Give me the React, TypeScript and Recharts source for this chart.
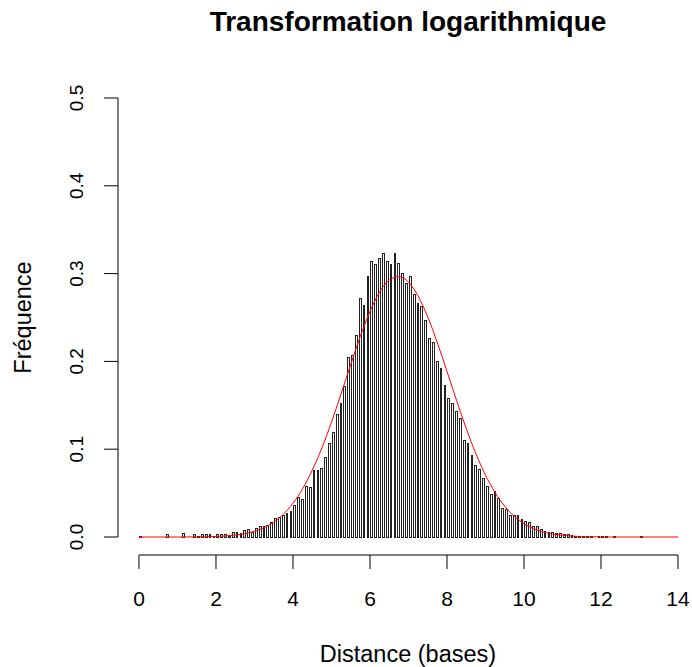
import { Bar, ComposedChart, Line, ReferenceLine, XAxis, YAxis } from 'recharts';

// histogram frequencies, bins of width 0.1 starting at 0.0 (last bin 13.0-13.1)
const freq = [
  0.001, 0, 0, 0, 0, 0, 0, 0.003, 0, 0,
  0, 0.004, 0, 0, 0.003, 0.001, 0.003, 0.003, 0.003, 0.001,
  0.003, 0.003, 0.003, 0.001, 0.005, 0.005, 0.004, 0.007, 0.009, 0.005,
  0.010, 0.012, 0.012, 0.013, 0.016, 0.021, 0.022, 0.024, 0.027, 0.029,
  0.036, 0.045, 0.043, 0.058, 0.056, 0.076, 0.076, 0.078, 0.091, 0.107,
  0.119, 0.139, 0.152, 0.171, 0.205, 0.207, 0.230, 0.272, 0.264, 0.297,
  0.314, 0.310, 0.317, 0.323, 0.314, 0.310, 0.323, 0.311, 0.300, 0.289,
  0.297, 0.276, 0.266, 0.262, 0.247, 0.226, 0.222, 0.200, 0.192, 0.173,
  0.158, 0.152, 0.143, 0.135, 0.110, 0.106, 0.093, 0.081, 0.077, 0.067,
  0.058, 0.048, 0.052, 0.044, 0.033, 0.031, 0.025, 0.025, 0.025, 0.020,
  0.018, 0.016, 0.012, 0.012, 0.009, 0.006, 0.005, 0.005, 0.004, 0.004,
  0.003, 0.003, 0.002, 0.001, 0.001, 0.001, 0.001, 0.001, 0, 0.001,
  0.001, 0.001, 0, 0.001, 0, 0, 0, 0, 0, 0,
  0.001,
];
const binStart = 0;
const binWidth = 0.1;

// red density curve, read every 0.25 from 0 to 14
const density = [
  0, 0, 0, 0, 0, 0.0001, 0.0002, 0.0003, 0.0006, 0.0012,
  0.0022, 0.0038, 0.0065, 0.0106, 0.0169, 0.0259, 0.0384, 0.0549, 0.076, 0.1014,
  0.1309, 0.1632, 0.1966, 0.2287, 0.257, 0.279, 0.2927, 0.2965, 0.2903, 0.2744,
  0.2507, 0.2212, 0.1886, 0.1553, 0.1236, 0.0949, 0.0705, 0.0506, 0.035, 0.0235,
  0.0152, 0.0095, 0.0057, 0.0033, 0.0019, 0.001, 0.0005, 0.0003, 0.0001, 0,
  0, 0, 0, 0, 0, 0, 0,
];
const densStart = 0;
const densStep = 0.25;

const xTicks = [0, 2, 4, 6, 8, 10, 12, 14];
const yTicks = [0, 0.1, 0.2, 0.3, 0.4, 0.5];
const yTickLabels = ['0.0', '0.1', '0.2', '0.3', '0.4', '0.5'];

const X_DOMAIN: [number, number] = [-0.545, 14.312];
const Y_DOMAIN: [number, number] = [-0.0205, 0.5205];

const FONT = '"Liberation Sans", Arial, sans-serif';

const histData = freq.map((f, i) => ({ x: binStart + binWidth * (i + 0.5), freq: f }));
const curveData = density.map((d, i) => ({ x: densStart + densStep * i, dens: d }));

const XTick = (props: any) => {
  const { x, y, payload } = props;
  return (
    <g>
      <line x1={x} x2={x} y1={y} y2={y + 14} stroke="#000" />
      <text x={x} y={y + 51} textAnchor="middle" fontSize={21} fontFamily={FONT} fill="#000">
        {payload.value}
      </text>
    </g>
  );
};

const YTick = (props: any) => {
  const { x, y, index } = props;
  const cx = x - 42;
  return (
    <g>
      <line x1={x} x2={x - 14} y1={y} y2={y} stroke="#000" />
      <text
        x={cx}
        y={y}
        dy="0.36em"
        transform={`rotate(-90, ${cx}, ${y})`}
        textAnchor="middle"
        fontSize={19}
        fontFamily={FONT}
        fill="#000"
      >
        {yTickLabels[index]}
      </text>
    </g>
  );
};

const xLabel = (props: any) => {
  const vb = props.viewBox;
  return (
    <text x={vb.x + 290} y={vb.y + 107} textAnchor="middle" fontSize={23.5} fontFamily={FONT} fill="#000">
      Distance (bases)
    </text>
  );
};

const yLabel = (props: any) => {
  const vb = props.viewBox;
  const cx = vb.x + 23;
  const cy = vb.y + vb.height / 2;
  return (
    <text
      x={cx}
      y={cy}
      dy="0.36em"
      transform={`rotate(-90, ${cx}, ${cy})`}
      textAnchor="middle"
      fontSize={23.5}
      fontFamily={FONT}
      fill="#000"
    >
      Fréquence
    </text>
  );
};

export default function App() {
  return (
    <div style={{ position: 'absolute', left: 0, top: 0, width: 692, height: 667, background: '#fff' }}>
      <div
        style={{
          position: 'absolute',
          left: 124,
          top: 8,
          width: 568,
          textAlign: 'center',
          fontFamily: FONT,
          fontWeight: 'bold',
          fontSize: 28,
          lineHeight: '28px',
          color: '#000',
        }}
      >
        Transformation logarithmique
      </div>
      <ComposedChart width={692} height={667} data={histData} margin={{ top: 80, right: 2, bottom: 0, left: 0 }}>
        <XAxis
          dataKey="x"
          type="number"
          domain={X_DOMAIN}
          allowDataOverflow
          ticks={xTicks}
          interval={0}
          axisLine={false}
          tickLine={false}
          tickSize={0}
          tickMargin={0}
          height={112}
          tick={<XTick />}
          label={{ content: xLabel }}
        />
        <YAxis
          type="number"
          domain={Y_DOMAIN}
          allowDataOverflow
          ticks={yTicks}
          interval={0}
          axisLine={false}
          tickLine={false}
          tickSize={0}
          tickMargin={0}
          width={118}
          tick={<YTick />}
          label={{ content: yLabel }}
        />
        <ReferenceLine
          segment={[{ x: xTicks[0], y: Y_DOMAIN[0] }, { x: xTicks[xTicks.length - 1], y: Y_DOMAIN[0] }]}
          stroke="#000"
          strokeWidth={1}
        />
        <ReferenceLine
          segment={[{ x: X_DOMAIN[0], y: yTicks[0] }, { x: X_DOMAIN[0], y: yTicks[yTicks.length - 1] }]}
          stroke="#000"
          strokeWidth={1}
        />
        <Bar
          dataKey="freq"
          barSize={3.8}
          fill="#fff"
          stroke="#222"
          strokeWidth={1}
          shapeRendering="crispEdges"
          isAnimationActive={false}
        />
        <Line
          data={curveData}
          dataKey="dens"
          type="monotone"
          stroke="#ff0000"
          strokeWidth={1}
          dot={false}
          activeDot={false}
          isAnimationActive={false}
        />
      </ComposedChart>
    </div>
  );
}
